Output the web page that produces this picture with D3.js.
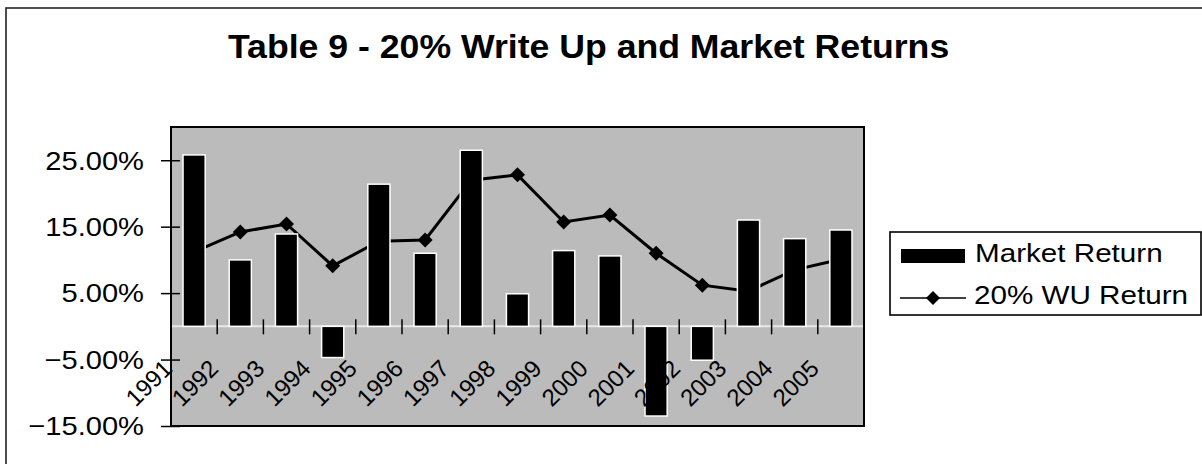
<!DOCTYPE html>
<html>
<head>
<meta charset="utf-8">
<script src="https://cdn.jsdelivr.net/npm/d3@7/dist/d3.min.js"></script>
<style>
  html, body { margin: 0; padding: 0; background: #fff; }
  svg { display: block; }
  text { font-family: "Liberation Sans", Arial, sans-serif; fill: #000; }
</style>
</head>
<body>
<svg id="chart" width="1202" height="464"></svg>
<script>
// ---- data ----
const years = ["1991","1992","1993","1994","1995","1996","1997","1998","1999","2000","2001","2002","2003","2004","2005"];
const marketReturn = [0.258, 0.100, 0.139, -0.047, 0.214, 0.110, 0.265, 0.049, 0.114, 0.106, -0.135, -0.051, 0.160, 0.132, 0.145];
const wuReturn = [0.112, 0.142, 0.154, 0.091, 0.128, 0.130, 0.220, 0.228, 0.157, 0.1675, 0.110, 0.062, 0.053, 0.085, 0.101];
const yTicks = [-0.15, -0.05, 0.05, 0.15, 0.25];
const titleText = "Table 9 - 20% Write Up and Market Returns";
const seriesNames = ["Market Return", "20% WU Return"];

const svg = d3.select("#chart");

// chart frame (right and bottom edges fall outside the picture)
svg.append("rect").attr("x", 6).attr("y", 8).attr("width", 1230).attr("height", 500)
  .attr("fill", "#fff").attr("stroke", "#222").attr("stroke-width", 1.6);

// title
svg.append("text").attr("transform", "translate(228,58) scale(1.08,1)")
  .attr("font-size", 33).attr("font-weight", "bold").text(titleText);

// plot area
const pLeft = 171, pRight = 864, pTop = 127, pBottom = 426;
const x = d3.scaleBand().domain(years).range([pLeft, pRight]).paddingInner(0.52).paddingOuter(0.26);
const y = d3.scaleLinear().domain([-0.15, 0.30]).range([pBottom, pTop]);
const bw = x.bandwidth();
const step = x.step();

svg.append("rect").attr("x", pLeft).attr("y", pTop).attr("width", pRight - pLeft).attr("height", pBottom - pTop)
  .attr("fill", "#bbbbbb");

// zero axis line
const y0 = y(0);
svg.append("line").attr("x1", pLeft).attr("x2", pRight).attr("y1", y0).attr("y2", y0)
  .attr("stroke", "#e8e8e8").attr("stroke-width", 2);

// x tick marks between categories (crossing)
const bounds = years.map(d => x(d) + bw / 2 - step / 2).concat([x(years[years.length - 1]) + bw / 2 + step / 2]);
svg.append("g").selectAll("line").data(bounds.slice(1, -1)).join("line")
  .attr("x1", d => d).attr("x2", d => d).attr("y1", y0 - 7).attr("y2", y0 + 8)
  .attr("stroke", "#000").attr("stroke-width", 1.5);

// WU return line (drawn beneath bars)
const cx = d => x(d) + bw / 2;
const lineData = years.map((d, i) => ({ year: d, v: wuReturn[i] }));
svg.append("path").datum(lineData)
  .attr("d", d3.line().x(d => cx(d.year)).y(d => y(d.v)))
  .attr("fill", "none").attr("stroke", "#000").attr("stroke-width", 3);
const diamond = r => `M0,${-r}L${r},0L0,${r}L${-r},0Z`;
svg.append("g").selectAll("path").data(lineData).join("path")
  .attr("transform", d => `translate(${cx(d.year)},${y(d.v)})`)
  .attr("d", diamond(7.5)).attr("fill", "#000");

// market return bars
const barData = years.map((d, i) => ({ year: d, v: marketReturn[i] }));
svg.append("g").selectAll("rect").data(barData).join("rect")
  .attr("x", d => x(d.year))
  .attr("y", d => y(Math.max(0, d.v)))
  .attr("width", bw)
  .attr("height", d => Math.abs(y(d.v) - y0))
  .attr("fill", "#000").attr("stroke", "#fff").attr("stroke-width", 1.5);

// plot border
svg.append("rect").attr("x", pLeft).attr("y", pTop).attr("width", pRight - pLeft).attr("height", pBottom - pTop)
  .attr("fill", "none").attr("stroke", "#000").attr("stroke-width", 2);

// y axis ticks (crossing) and labels
const yAxis = svg.append("g").attr("transform", `translate(${pLeft},0)`)
  .call(d3.axisLeft(y).tickValues(yTicks).tickFormat(d3.format(".2%")).tickSize(10));
yAxis.select(".domain").remove();
yAxis.selectAll(".tick line").attr("x1", 9).attr("x2", -10).attr("stroke", "#000").attr("stroke-width", 1.5);
yAxis.selectAll(".tick text").remove();
svg.append("g").selectAll("text").data(yTicks).join("text")
  .attr("transform", d => `translate(144,${y(d) + 9.3}) scale(1.12,1)`)
  .attr("text-anchor", "end").attr("font-size", 26)
  .text(d => d3.format(".2%")(d));

// x labels, rotated
svg.append("g").selectAll("text").data(years).join("text")
  .attr("transform", d => `translate(${cx(d) - 20.5},${370}) rotate(-45)`)
  .attr("text-anchor", "end").attr("font-size", 24)
  .text(d => d);

// legend
const lg = svg.append("g");
lg.append("rect").attr("x", 890).attr("y", 232).attr("width", 311).attr("height", 83)
  .attr("fill", "#fff").attr("stroke", "#000").attr("stroke-width", 1.6);
lg.append("rect").attr("x", 901).attr("y", 249).attr("width", 64).attr("height", 14).attr("fill", "#000");
lg.append("text").attr("transform", "translate(975,262) scale(1.14,1)").attr("font-size", 26).text(seriesNames[0]);
lg.append("line").attr("x1", 900).attr("x2", 966).attr("y1", 298).attr("y2", 298)
  .attr("stroke", "#000").attr("stroke-width", 1.6);
lg.append("path").attr("transform", "translate(933,298)").attr("d", diamond(7)).attr("fill", "#000");
lg.append("text").attr("transform", "translate(974,303.5) scale(1.14,1)").attr("font-size", 26).text(seriesNames[1]);
</script>
</body>
</html>
